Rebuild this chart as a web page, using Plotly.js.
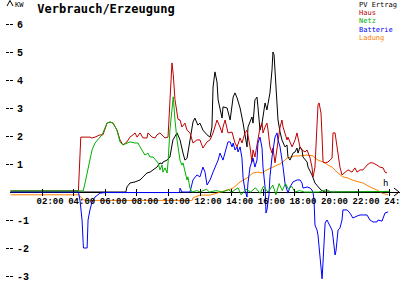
<!DOCTYPE html>
<html><head><meta charset="utf-8">
<script src="https://cdn.plot.ly/plotly-3.0.1.min.js"></script>
<style>html,body{margin:0;padding:0;background:#fff;overflow:hidden}#chart{width:400px;height:300px}</style>
</head><body><div id="chart"></div>
<script>
const seriesNames = ["PV Ertrag", "Haus", "Netz", "Batterie", "Ladung"];
const seriesColors = ["#000000", "#c00000", "#00b000", "#0000ff", "#ff8000"];
const xTickVals = [2, 4, 6, 8, 10, 12, 14, 16, 18, 20, 22, 24];
const xTickText = ["02:00", "04:00", "06:00", "08:00", "10:00", "12:00", "14:00", "16:00", "18:00", "20:00", "22:00", "24:00"];
const yTickVals = [-3, -2, -1, 1, 2, 3, 4, 5, 6];
const yTickText = ["-3", "-2", "-1", "1", "2", "3", "4", "5", "6"];

const pvHours = [0,7.3,7.37,7.56,7.88,8.2,8.39,8.64,8.83,9.02,9.27,9.46,9.59,9.65,9.91,10.09,10.28,10.54,10.73,10.92,11.04,11.17,11.36,11.55,11.67,11.86,11.99,12.18,12.44,12.63,12.75,12.82,12.94,13.07,13.14,13.26,13.39,13.45,13.71,13.9,14.09,14.21,14.34,14.53,14.72,14.97,15.03,15.28,15.35,15.47,15.6,15.66,15.79,15.92,16.11,16.23,16.3,16.42,16.55,16.61,16.68,16.87,16.93,17.06,17.18,17.37,17.5,17.56,17.69,17.88,18.01,18.13,18.2,18.32,18.45,18.51,18.77,18.83,19.08,19.27,19.46,19.65,19.9,24];
const pvKw = [0,0,0.18,0.32,0.36,0.43,0.54,0.68,0.71,0.79,0.89,1.04,1.0,1.07,1.14,1.25,1.86,2.11,1.86,1.39,1.14,1.2,1.86,2.5,2.64,2.39,2.46,2.21,2.04,1.96,2.32,3.75,4.29,3.93,3.29,2.93,2.64,3.04,3.0,2.57,3.39,3.54,3.36,3.0,2.46,1.61,2.32,2.68,2.46,3.29,3.39,3.04,2.21,2.46,3.18,2.93,3.21,3.54,4.36,5.0,4.9,3.18,2.57,2.14,1.86,1.61,1.68,1.25,1.14,1.39,1.43,1.57,1.39,1.61,1.5,1.25,1.07,0.89,0.61,0.32,0.18,0.07,0,0];

const hausHours = [0,4.3,4.45,5.03,5.15,5.35,5.66,5.85,6.11,6.3,6.49,6.74,6.93,7.12,7.37,7.56,7.75,7.88,8.01,8.2,8.39,8.64,8.7,8.96,9.15,9.27,9.46,9.59,9.78,9.97,10.05,10.15,10.22,10.3,10.41,10.6,10.73,10.85,11.04,11.17,11.36,11.55,11.8,11.99,12.18,12.44,12.63,12.82,13.07,13.26,13.39,13.45,13.58,13.77,14.02,14.21,14.34,14.53,14.65,14.84,14.97,15.16,15.28,15.35,15.47,15.6,15.79,15.92,15.98,16.11,16.23,16.3,16.42,16.55,16.61,16.74,16.87,17.06,17.18,17.25,17.5,17.56,17.82,18.01,18.13,18.2,18.32,18.45,18.64,18.77,18.96,19.08,19.15,19.27,19.4,19.46,19.53,19.65,19.72,19.78,19.91,20.09,20.35,20.41,20.54,20.66,20.73,20.85,20.98,21.17,21.36,21.61,21.8,21.93,22.12,22.31,22.56,22.75,22.94,23.19,23.38,23.58,23.7,23.83];
const hausKw = [0.04,0.04,1.96,1.96,1.93,1.96,2.04,2.04,2.46,2.5,2.46,2.21,1.86,1.68,1.79,1.96,2.04,2.11,1.96,2.11,1.93,1.93,2.11,1.96,1.93,2.04,2.11,2.04,1.93,1.96,2.9,4.3,4.61,4.2,3.3,2.6,2.57,2.32,2.46,2.21,2.11,1.75,1.86,1.86,1.57,1.79,1.86,2.11,2.57,2.32,2.11,2.32,2.57,2.11,2.14,1.75,1.61,1.93,1.75,2.11,2.21,1.61,1.07,1.5,1.25,1.68,2.29,2.46,2.11,2.32,2.46,2.21,1.61,1.39,1.57,1.04,1.61,2.32,2.57,2.32,1.86,1.96,1.61,1.86,2.11,1.93,1.61,1.5,1.43,1.5,1.21,0.89,0.54,0.89,2.11,3.11,3.18,2.82,1.96,1.07,1.04,1.07,1.21,2.11,2.11,1.61,1.39,0.89,0.61,0.71,0.79,0.71,0.86,0.71,0.79,0.79,0.96,1.04,1.04,0.96,0.89,0.86,0.71,0.68];

const netzHours = [0,4.6,4.72,4.85,4.91,5.03,5.16,5.35,5.54,5.66,5.79,5.85,6.11,6.3,6.49,6.74,6.93,7.12,7.37,7.56,7.88,8.07,8.2,8.39,8.51,8.7,8.83,9.02,9.27,9.34,9.46,9.59,9.65,9.78,9.91,9.97,10.09,10.22,10.3,10.41,10.54,10.73,10.85,10.92,11.04,11.17,11.23,11.36,11.48,11.8,12.0,12.4,12.6,13.0,13.4,13.8,14.0,14.4,14.6,14.9,15.2,15.5,15.8,16.0,16.3,16.6,16.8,17.0,17.2,17.4,17.6,17.8,18.0,18.3,18.6,19.5,20.0,20.3,24];
const netzKw = [0.04,0.04,0.32,0.68,0.89,1.14,1.5,1.75,1.86,1.96,2.04,2.11,2.46,2.5,2.46,2.21,1.79,1.68,1.75,1.79,1.75,1.75,1.61,1.43,1.32,1.39,1.25,1.25,1.07,1.04,0.79,0.96,0.71,0.86,0.68,1.04,2.21,2.93,3.4,2.57,1.86,1.14,0.96,1.04,0.71,0.43,0.54,0.14,0,0.05,0,0.1,0,0.05,0,0.08,0,0.15,-0.1,0.1,0,0.15,-0.05,0.2,0,0.25,-0.1,0.3,0.05,0.3,0.1,0.2,0,0.05,0,0,0.08,0,0.02];

const battHours = [0,4.3,4.4,4.53,4.6,4.62,4.85,4.86,4.91,5.03,5.16,5.35,5.66,6.0,10.7,10.73,10.85,11.36,11.55,11.8,11.99,12.18,12.31,12.44,12.63,12.82,13.07,13.14,13.26,13.45,13.71,13.77,13.9,14.02,14.09,14.21,14.34,14.4,14.53,14.65,14.72,14.84,14.97,15.03,15.16,15.28,15.35,15.47,15.6,15.66,15.79,15.92,15.98,16.11,16.17,16.23,16.3,16.36,16.42,16.55,16.74,16.87,16.93,17.06,17.25,17.37,17.5,17.56,17.69,17.88,18.13,18.32,18.45,18.51,18.77,18.96,19.08,19.15,19.21,19.27,19.4,19.46,19.53,19.65,19.72,19.78,19.85,19.91,20.03,20.09,20.22,20.35,20.41,20.54,20.6,20.66,20.73,20.85,20.98,21.04,21.3,21.48,21.67,21.93,22.12,22.31,22.56,22.75,22.94,23.19,23.26,23.51,23.7,23.9];
const battKw = [0,0,-0.3,-1.0,-1.8,-2.0,-2.0,-1.46,-1.0,-0.64,-0.36,-0.18,-0.04,-0.02,-0.02,0.14,0,0,0.43,0.61,0.54,0.89,0.71,0.25,0.43,0.71,1.07,1.14,1.39,1.14,1.68,1.79,1.79,1.61,1.75,1.5,1.61,1.43,1.61,1.21,0.5,0.07,-0.18,0.32,0.89,1.14,1.21,0.89,1.14,1.75,1.96,1.57,0.89,0.18,-0.75,-0.64,-0.4,-0.1,0.54,1.25,1.96,2.11,1.86,1.61,0.89,0.32,0.07,-0.04,0.18,0.36,0.43,0.43,0.32,0.14,0.18,0.14,0.07,-0.04,-0.29,-1.18,-1.36,-1.54,-1.96,-2.79,-3.1,-2.5,-1.82,-1.11,-1.0,-1.07,-1.18,-1.36,-1.61,-2.25,-2.1,-1.82,-1.36,-1.29,-1.0,-0.64,-0.64,-0.75,-0.93,-0.86,-0.82,-0.82,-0.82,-1.0,-1.07,-1.07,-1.0,-1.04,-0.75,-0.71];

const ladHours = [0,4.3,4.65,5.0,11.5,11.55,11.99,12.63,13.07,13.26,13.71,14.09,14.53,14.97,15.35,15.66,15.92,16.23,16.55,16.87,17.06,17.25,17.37,17.5,17.69,18.0,18.32,18.77,19.15,19.27,19.46,19.72,19.91,20.09,20.35,20.66,20.85,21.04,21.36,21.61,22.05,22.31,22.75,23.19,23.51,23.9];
const ladKw = [-0.1,-0.1,-0.29,-0.3,-0.3,-0.21,-0.11,-0.11,-0.04,0,0.07,0.14,0.36,0.5,0.68,0.71,0.68,0.79,0.89,0.96,1.0,1.07,1.14,1.21,1.25,1.29,1.29,1.32,1.29,1.21,1.14,1.07,1.04,0.96,0.89,0.71,0.61,0.54,0.5,0.43,0.36,0.32,0.18,0.07,-0.04,-0.1];

function tr(xs, ys, i) {
  return {type: 'scatter', mode: 'lines', x: xs, y: ys, name: seriesNames[i],
          line: {color: seriesColors[i], width: 1}, hoverinfo: 'skip', showlegend: false};
}
const traces = [
  tr(ladHours, ladKw, 4),
  tr(pvHours, pvKw, 0),
  tr(hausHours, hausKw, 1),
  tr(battHours, battKw, 3),
  tr(netzHours, netzKw, 2),
  // empty helper traces so the overlaid tick-only axes are drawn
  {type: 'scatter', mode: 'lines', x: [], y: [], xaxis: 'x2', yaxis: 'y', hoverinfo: 'skip', showlegend: false},
  {type: 'scatter', mode: 'lines', x: [], y: [], xaxis: 'x', yaxis: 'y2', hoverinfo: 'skip', showlegend: false}
];

const W = 400, H = 300, L = 10;
function px(x) { return (x - L) / (W - L); }
function py(y) { return (H - y) / H; }
const xRange = [-0.03, 24.65];
const yRange = [-3.857, 6.857];
const zeroPos = -yRange[0] / (yRange[1] - yRange[0]);

const tickFont = {family: 'Liberation Mono', size: 9, color: '#000', weight: 'bold'};
const annotations = seriesNames.map((n, i) => ({
  xref: 'paper', yref: 'paper', x: px(358), y: py(4.5 + i * 8.4), xanchor: 'left', yanchor: 'middle',
  text: n, showarrow: false, borderpad: 0,
  font: {family: 'DejaVu Sans Mono', size: 7, color: seriesColors[i]}
}));
annotations.push({xref: 'paper', yref: 'paper', x: px(14), y: py(5), xanchor: 'left', yanchor: 'middle',
  text: 'KW', showarrow: false, borderpad: 0, font: {family: 'DejaVu Sans Mono', size: 7, color: '#000'}});
annotations.push({xref: 'paper', yref: 'paper', x: px(385), y: py(183), xanchor: 'center', yanchor: 'middle',
  text: 'h', showarrow: false, borderpad: 0, font: {family: 'DejaVu Sans Mono', size: 9, color: '#000'}});

const shapes = [
  {type: 'line', xref: 'paper', yref: 'paper', x0: px(7), y0: py(6), x1: px(10), y1: py(0.5), line: {color: '#000', width: 1}},
  {type: 'line', xref: 'paper', yref: 'paper', x0: px(13), y0: py(6), x1: px(10), y1: py(0.5), line: {color: '#000', width: 1}},
  {type: 'line', xref: 'paper', yref: 'paper', x0: px(394), y0: py(188), x1: px(399), y1: py(192), line: {color: '#000', width: 1}},
  {type: 'line', xref: 'paper', yref: 'paper', x0: px(394), y0: py(196), x1: px(399), y1: py(192), line: {color: '#000', width: 1}}
];

const layout = {
  width: W, height: H,
  margin: {l: L, r: 0, t: 0, b: 0, pad: 0},
  paper_bgcolor: '#ffffff', plot_bgcolor: '#ffffff',
  showlegend: false,
  title: {text: 'Verbrauch/Erzeugung', xref: 'container', yref: 'container', x: 106 / W, y: 1 - 8.5 / H,
          xanchor: 'center', yanchor: 'middle',
          font: {family: 'DejaVu Sans Mono', size: 12, weight: 'bold', color: '#000'}},
  xaxis: {range: xRange, anchor: 'free', position: zeroPos, showgrid: false, showline: false,
          zeroline: true, zerolinecolor: '#000', zerolinewidth: 1,
          tickmode: 'array', tickvals: xTickVals, ticktext: xTickText,
          ticks: 'outside', ticklen: 3, tickcolor: '#000', tickwidth: 1,
          ticklabelshift: 8, ticklabelstandoff: -3, ticklabeloverflow: 'allow',
          tickfont: tickFont, fixedrange: true},
  xaxis2: {range: xRange, overlaying: 'x', anchor: 'free', position: zeroPos, showgrid: false, showline: false,
          zeroline: false, tickmode: 'array', tickvals: xTickVals, ticks: 'inside', ticklen: 3,
          tickcolor: '#000', showticklabels: false, fixedrange: true},
  yaxis: {range: yRange, showgrid: false, showline: false,
          zeroline: true, zerolinecolor: '#000', zerolinewidth: 1,
          tickmode: 'array', tickvals: yTickVals, ticktext: yTickText,
          ticks: 'outside', ticklen: 3, tickcolor: '#000', tickwidth: 1,
          ticklabelposition: 'inside', ticklabelstandoff: 4,
          tickfont: {family: 'Liberation Mono', size: 10, color: '#000', weight: 'bold'},
          fixedrange: true},
  yaxis2: {range: yRange, overlaying: 'y', anchor: 'x', showgrid: false, showline: false, zeroline: false,
          tickmode: 'array', tickvals: yTickVals, ticks: 'inside', ticklen: 3, tickcolor: '#000',
          showticklabels: false, fixedrange: true},
  annotations: annotations,
  shapes: shapes
};

Plotly.newPlot('chart', traces, layout, {staticPlot: true, displayModeBar: false});
</script>
</body></html>
